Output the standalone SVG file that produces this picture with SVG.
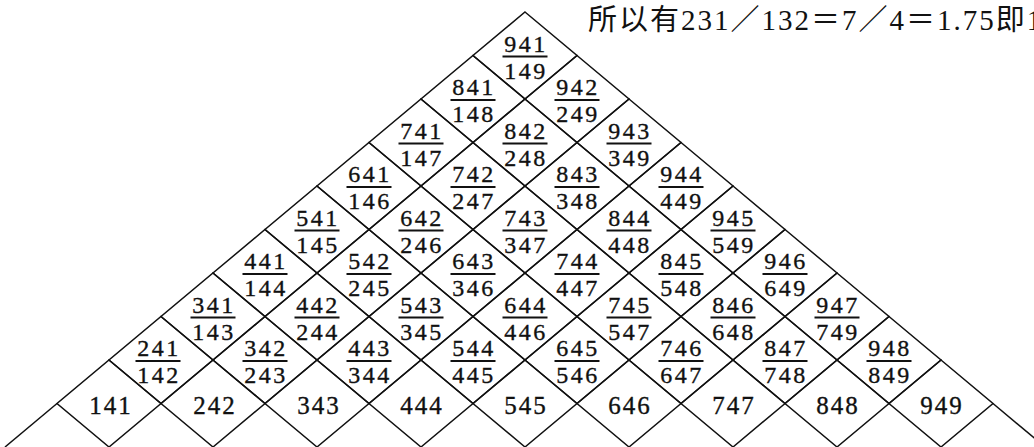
<svg xmlns="http://www.w3.org/2000/svg" width="1034" height="447" viewBox="0 0 1034 447">
<style>
.t{font-family:"Liberation Serif","DejaVu Serif",serif;font-size:24px;fill:#111;stroke:#111;stroke-width:0.35px;text-anchor:middle;letter-spacing:2.5px}
.b{font-size:25px;letter-spacing:2px}
.title{font-family:"Liberation Serif","Noto Sans CJK SC",serif;font-size:29px;fill:#111;letter-spacing:2px}
.edge{stroke:#111;stroke-width:1.5;fill:none}
</style>
<defs>
<polygon id="d" points="0,-43.5 52,0 0,43.5 -52,0" fill="none" stroke="#111" stroke-width="1.5"/>
<line id="bar" x1="-22.5" y1="1" x2="22.5" y2="1" stroke="#111" stroke-width="2"/>
</defs>
<rect width="1034" height="447" fill="#fff"/>
<text class="title" x="588" y="30">所以有231／132＝7／4＝1.75即1</text>
<g id="connectors">
<line class="edge" x1="57" y1="403.5" x2="5" y2="447"/>
<line class="edge" x1="993" y1="403.5" x2="1045" y2="447"/>
</g>
<!-- row 0 -->
<g id="n941" transform="translate(525,55.5)"><use href="#d"/><text class="t" x="1" y="-4">941</text><use href="#bar"/><text class="t" x="1" y="23">149</text></g>
<!-- row 1 -->
<g id="n841" transform="translate(473,99)"><use href="#d"/><text class="t" x="1" y="-4">841</text><use href="#bar"/><text class="t" x="1" y="23">148</text></g>
<g id="n942" transform="translate(577,99)"><use href="#d"/><text class="t" x="1" y="-4">942</text><use href="#bar"/><text class="t" x="1" y="23">249</text></g>
<!-- row 2 -->
<g id="n741" transform="translate(421,142.5)"><use href="#d"/><text class="t" x="1" y="-4">741</text><use href="#bar"/><text class="t" x="1" y="23">147</text></g>
<g id="n842" transform="translate(525,142.5)"><use href="#d"/><text class="t" x="1" y="-4">842</text><use href="#bar"/><text class="t" x="1" y="23">248</text></g>
<g id="n943" transform="translate(629,142.5)"><use href="#d"/><text class="t" x="1" y="-4">943</text><use href="#bar"/><text class="t" x="1" y="23">349</text></g>
<!-- row 3 -->
<g id="n641" transform="translate(369,186)"><use href="#d"/><text class="t" x="1" y="-4">641</text><use href="#bar"/><text class="t" x="1" y="23">146</text></g>
<g id="n742" transform="translate(473,186)"><use href="#d"/><text class="t" x="1" y="-4">742</text><use href="#bar"/><text class="t" x="1" y="23">247</text></g>
<g id="n843" transform="translate(577,186)"><use href="#d"/><text class="t" x="1" y="-4">843</text><use href="#bar"/><text class="t" x="1" y="23">348</text></g>
<g id="n944" transform="translate(681,186)"><use href="#d"/><text class="t" x="1" y="-4">944</text><use href="#bar"/><text class="t" x="1" y="23">449</text></g>
<!-- row 4 -->
<g id="n541" transform="translate(317,229.5)"><use href="#d"/><text class="t" x="1" y="-4">541</text><use href="#bar"/><text class="t" x="1" y="23">145</text></g>
<g id="n642" transform="translate(421,229.5)"><use href="#d"/><text class="t" x="1" y="-4">642</text><use href="#bar"/><text class="t" x="1" y="23">246</text></g>
<g id="n743" transform="translate(525,229.5)"><use href="#d"/><text class="t" x="1" y="-4">743</text><use href="#bar"/><text class="t" x="1" y="23">347</text></g>
<g id="n844" transform="translate(629,229.5)"><use href="#d"/><text class="t" x="1" y="-4">844</text><use href="#bar"/><text class="t" x="1" y="23">448</text></g>
<g id="n945" transform="translate(733,229.5)"><use href="#d"/><text class="t" x="1" y="-4">945</text><use href="#bar"/><text class="t" x="1" y="23">549</text></g>
<!-- row 5 -->
<g id="n441" transform="translate(265,273)"><use href="#d"/><text class="t" x="1" y="-4">441</text><use href="#bar"/><text class="t" x="1" y="23">144</text></g>
<g id="n542" transform="translate(369,273)"><use href="#d"/><text class="t" x="1" y="-4">542</text><use href="#bar"/><text class="t" x="1" y="23">245</text></g>
<g id="n643" transform="translate(473,273)"><use href="#d"/><text class="t" x="1" y="-4">643</text><use href="#bar"/><text class="t" x="1" y="23">346</text></g>
<g id="n744" transform="translate(577,273)"><use href="#d"/><text class="t" x="1" y="-4">744</text><use href="#bar"/><text class="t" x="1" y="23">447</text></g>
<g id="n845" transform="translate(681,273)"><use href="#d"/><text class="t" x="1" y="-4">845</text><use href="#bar"/><text class="t" x="1" y="23">548</text></g>
<g id="n946" transform="translate(785,273)"><use href="#d"/><text class="t" x="1" y="-4">946</text><use href="#bar"/><text class="t" x="1" y="23">649</text></g>
<!-- row 6 -->
<g id="n341" transform="translate(213,316.5)"><use href="#d"/><text class="t" x="1" y="-4">341</text><use href="#bar"/><text class="t" x="1" y="23">143</text></g>
<g id="n442" transform="translate(317,316.5)"><use href="#d"/><text class="t" x="1" y="-4">442</text><use href="#bar"/><text class="t" x="1" y="23">244</text></g>
<g id="n543" transform="translate(421,316.5)"><use href="#d"/><text class="t" x="1" y="-4">543</text><use href="#bar"/><text class="t" x="1" y="23">345</text></g>
<g id="n644" transform="translate(525,316.5)"><use href="#d"/><text class="t" x="1" y="-4">644</text><use href="#bar"/><text class="t" x="1" y="23">446</text></g>
<g id="n745" transform="translate(629,316.5)"><use href="#d"/><text class="t" x="1" y="-4">745</text><use href="#bar"/><text class="t" x="1" y="23">547</text></g>
<g id="n846" transform="translate(733,316.5)"><use href="#d"/><text class="t" x="1" y="-4">846</text><use href="#bar"/><text class="t" x="1" y="23">648</text></g>
<g id="n947" transform="translate(837,316.5)"><use href="#d"/><text class="t" x="1" y="-4">947</text><use href="#bar"/><text class="t" x="1" y="23">749</text></g>
<!-- row 7 -->
<g id="n241" transform="translate(161,360)"><use href="#d"/><text class="t" x="-2" y="-4">241</text><use href="#bar" x="-3"/><text class="t" x="-2" y="23">142</text></g>
<g id="n342" transform="translate(265,360)"><use href="#d"/><text class="t" x="1" y="-4">342</text><use href="#bar"/><text class="t" x="1" y="23">243</text></g>
<g id="n443" transform="translate(369,360)"><use href="#d"/><text class="t" x="1" y="-4">443</text><use href="#bar"/><text class="t" x="1" y="23">344</text></g>
<g id="n544" transform="translate(473,360)"><use href="#d"/><text class="t" x="1" y="-4">544</text><use href="#bar"/><text class="t" x="1" y="23">445</text></g>
<g id="n645" transform="translate(577,360)"><use href="#d"/><text class="t" x="1" y="-4">645</text><use href="#bar"/><text class="t" x="1" y="23">546</text></g>
<g id="n746" transform="translate(681,360)"><use href="#d"/><text class="t" x="1" y="-4">746</text><use href="#bar"/><text class="t" x="1" y="23">647</text></g>
<g id="n847" transform="translate(785,360)"><use href="#d"/><text class="t" x="1" y="-4">847</text><use href="#bar"/><text class="t" x="1" y="23">748</text></g>
<g id="n948" transform="translate(889,360)"><use href="#d"/><text class="t" x="1" y="-4">948</text><use href="#bar"/><text class="t" x="1" y="23">849</text></g>
<!-- row 8 -->
<g id="n141" transform="translate(109,403.5)"><use href="#d"/><text class="t b" x="2" y="10.5">141</text></g>
<g id="n242" transform="translate(213,403.5)"><use href="#d"/><text class="t b" x="2" y="10.5">242</text></g>
<g id="n343" transform="translate(317,403.5)"><use href="#d"/><text class="t b" x="2" y="10.5">343</text></g>
<g id="n444" transform="translate(421,403.5)"><use href="#d"/><text class="t b" x="1" y="10.5">444</text></g>
<g id="n545" transform="translate(525,403.5)"><use href="#d"/><text class="t b" x="1" y="10.5">545</text></g>
<g id="n646" transform="translate(629,403.5)"><use href="#d"/><text class="t b" x="1" y="10.5">646</text></g>
<g id="n747" transform="translate(733,403.5)"><use href="#d"/><text class="t b" x="1" y="10.5">747</text></g>
<g id="n848" transform="translate(837,403.5)"><use href="#d"/><text class="t b" x="1" y="10.5">848</text></g>
<g id="n949" transform="translate(941,403.5)"><use href="#d"/><text class="t b" x="1" y="10.5">949</text></g>
</svg>
